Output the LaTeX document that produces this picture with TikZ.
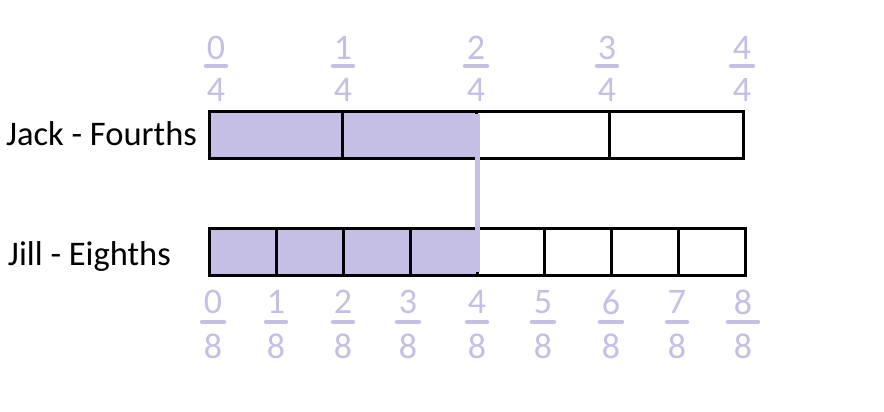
\documentclass[tikz,border=0pt]{standalone}
\usepackage{fontspec}
\setmainfont{Carlito}
\definecolor{lilac}{RGB}{198,191,229}
\begin{document}
\begin{tikzpicture}[x=1pt, y=-1pt, every node/.style={inner sep=0pt, outer sep=0pt},
	jcell/.style={draw=black, line width=3pt, minimum width=133.5pt, minimum height=47pt, anchor=west},
	gcell/.style={draw=black, line width=3pt, minimum width=67.1pt, minimum height=47pt, anchor=west},
	digit/.style={text=lilac, font=\fontsize{36}{36}\selectfont},
	fracbar/.style={draw=lilac, line width=4.5pt, line cap=round},
	kidlabel/.style={anchor=west, font=\fontsize{34.5}{34.5}\selectfont}]
	\useasboundingbox (0,0) rectangle (884,412);
	
	\node[kidlabel] (jack) at (6,134) {Jack - Fourths};
	\node[kidlabel] (jill) at (8,256) {Jill - Eighths};
	
	% fourths
	\foreach \i in {0,...,3}
		\node[jcell] (j\i) at (209+133.5*\i,134.5) {};
	\fill[lilac] (j0.north west) rectangle (j1.south east);
	\foreach \i in {0,...,3}
		\draw[line width=3pt] (j\i.north west) rectangle (j\i.south east);
	
	% eighths
	\foreach \i in {0,...,7}
		\node[gcell] (g\i) at (209+67.1*\i,251.5) {};
	\fill[lilac] (g0.north west) rectangle (g3.south east);
	\foreach \i in {0,...,7}
		\draw[line width=3pt] (g\i.north west) rectangle (g\i.south east);
	
	% half line
	\coordinate (htop) at ([yshift=-3pt]g3.east |- j1.north);
	\coordinate (hbot) at ([yshift=3pt]g3.south east);
	\draw[draw=lilac, line width=4.5pt] (htop) -- (hbot);
	
	% labels
	\foreach \x/\n/\w in {216/0/10, 343/1/10, 476/2/11, 607/3/10, 742/4/11}{
		\node[digit] (jn\n) at (\x,48) {\n};
		\node[digit] (jd\n) at (\x,90) {4};
		\draw[fracbar] (\x-\w,66) -- (\x+\w,66);
	}
	\foreach \x/\n/\w in {213/0/11, 276/1/10, 343/2/10, 408/3/11, 477/4/10, 543/5/11, 611/6/11, 677/7/10, 743/8/15}{
		\node[digit] (gn\n) at (\x,302) {\n};
		\node[digit] (gd\n) at (\x,346) {8};
		\draw[fracbar] (\x-\w,322) -- (\x+\w,322);
	}
\end{tikzpicture}
\end{document}
